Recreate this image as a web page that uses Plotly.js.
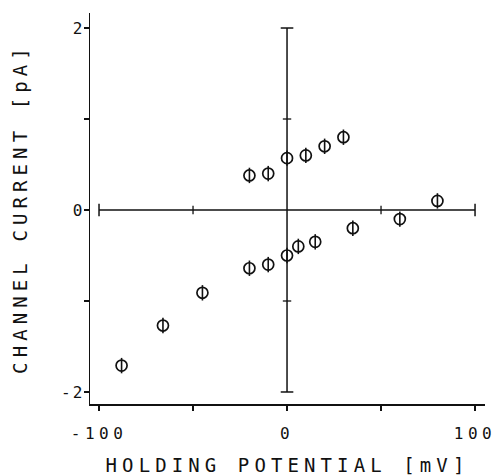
<!DOCTYPE html>
<html>
<head>
<meta charset="utf-8">
<script src="https://cdn.plot.ly/plotly-3.0.1.min.js"></script>
<style>
  html, body { margin: 0; padding: 0; background: #fff; }
  #chart { width: 499px; height: 476px; }
  .xtitle, .ytitle { letter-spacing: 5.1px; }
  .xtick text { letter-spacing: 4.5px; }
  .ytick text { letter-spacing: 2px; }
</style>
</head>
<body>
<div id="chart"></div>
<script>
// Holding potential (mV) and single-channel current (pA)
const upperVoltage = [-20, -10, 0, 10, 20, 30];
const upperCurrent = [0.38, 0.40, 0.57, 0.60, 0.70, 0.80];
const lowerVoltage = [-88, -66, -45, -20, -10, 0, 6, 15, 35, 60, 80];
const lowerCurrent = [-1.71, -1.27, -0.91, -0.64, -0.60, -0.50, -0.40, -0.35, -0.20, -0.10, 0.10];

const xTickVals = [-100, -50, 0, 50, 100];
const xTickText = ['-100', '', '0', '', '100'];
const yTickVals = [-2, -1, 0, 1, 2];
const yTickText = ['-2', '', '0', '', '2'];

// inner cross axes
const crossXEnds = [-100, 100];
const crossYEnds = [-2, 2];
const crossXCaps = [-100, 100];
const crossXMinor = [-50, 50];
const crossYCaps = [-2, 2];
const crossYMinor = [-1, 1];

const FONT = '"DejaVu Sans Mono", "Liberation Mono", monospace';
const BLACK = '#111';

function pointTraces(xs, ys) {
  return [
    { x: xs, y: ys, type: 'scatter', mode: 'markers', hoverinfo: 'skip',
      marker: { symbol: 'circle-open', size: 11, color: BLACK, line: { width: 1.7, color: BLACK } } },
    { x: xs, y: ys, type: 'scatter', mode: 'markers', hoverinfo: 'skip',
      marker: { symbol: 'line-ns-open', size: 11, color: BLACK, line: { width: 1.6, color: BLACK } } }
  ];
}

function tickTrace(xs, ys, symbol, size, width) {
  return { x: xs, y: ys, type: 'scatter', mode: 'markers', hoverinfo: 'skip',
    marker: { symbol: symbol, size: size, color: BLACK, line: { width: width, color: BLACK } } };
}

const traces = [
  tickTrace(crossXCaps, crossXCaps.map(() => 0), 'line-ns-open', 9, 1.5),
  tickTrace(crossXMinor, crossXMinor.map(() => 0), 'line-ns-open', 6, 1.3),
  tickTrace(crossYCaps.map(() => 0), crossYCaps, 'line-ew-open', 9, 1.5),
  tickTrace(crossYMinor.map(() => 0), crossYMinor, 'line-ew-open', 6, 1.3),
  ...pointTraces(upperVoltage, upperCurrent),
  ...pointTraces(lowerVoltage, lowerCurrent)
];

const layout = {
  width: 499, height: 476,
  margin: { l: 90, r: 14, t: 13, b: 72 },
  paper_bgcolor: '#fff', plot_bgcolor: '#fff',
  showlegend: false,
  font: { family: FONT, color: BLACK },
  xaxis: {
    range: [-104.8, 105.3],
    showgrid: false, zeroline: false,
    showline: true, linewidth: 1.5, linecolor: BLACK,
    ticks: 'outside', ticklen: 5, tickwidth: 1.3, tickcolor: BLACK,
    tickvals: xTickVals, ticktext: xTickText,
    ticklabelstandoff: 9,
    tickfont: { family: FONT, size: 16, color: BLACK },
    title: { text: 'HOLDING POTENTIAL [mV]', font: { family: FONT, size: 19, color: BLACK }, standoff: 18 },
    fixedrange: true
  },
  yaxis: {
    range: [-2.132, 2.165],
    showgrid: false, zeroline: false,
    showline: true, linewidth: 1.5, linecolor: BLACK,
    ticks: 'outside', ticklen: 5, tickwidth: 1.3, tickcolor: BLACK,
    tickvals: yTickVals, ticktext: yTickText,
    tickfont: { family: FONT, size: 16, color: BLACK },
    title: { text: 'CHANNEL CURRENT [pA]', font: { family: FONT, size: 19, color: BLACK }, standoff: 24 },
    fixedrange: true
  },
  shapes: [
    { type: 'line', xref: 'x', yref: 'y', x0: crossXEnds[0], x1: crossXEnds[1], y0: 0, y1: 0,
      line: { color: BLACK, width: 1.5 } },
    { type: 'line', xref: 'x', yref: 'y', x0: 0, x1: 0, y0: crossYEnds[0], y1: crossYEnds[1],
      line: { color: BLACK, width: 1.5 } }
  ]
};

Plotly.newPlot('chart', traces, layout, { displayModeBar: false, staticPlot: true }).then(() => {
  // nudge the y tick labels closer to the axis, as in the reference
  document.querySelectorAll('.ytick text').forEach(t => t.setAttribute('dx', '4'));
});
</script>
</body>
</html>
